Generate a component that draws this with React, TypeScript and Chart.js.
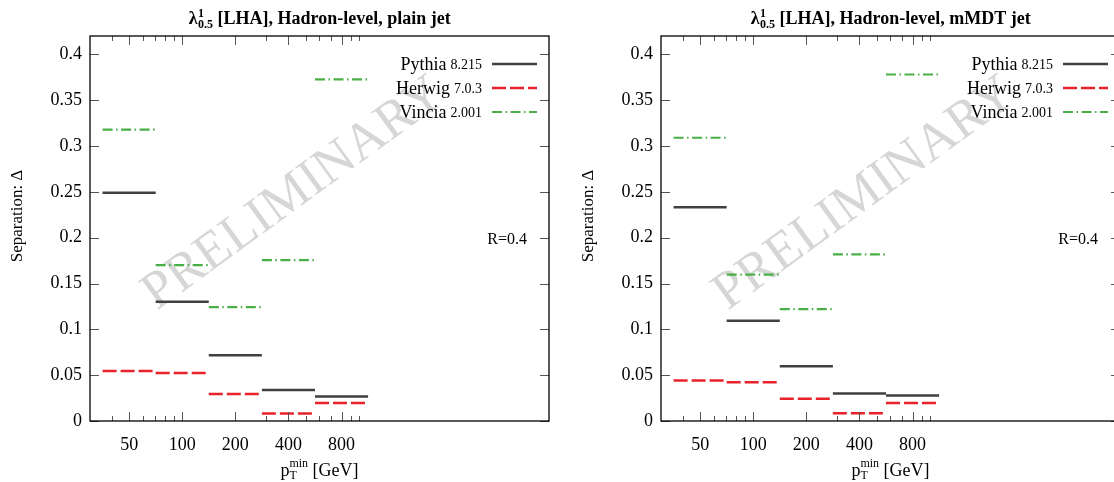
import React, { useEffect, useRef } from "react";
import { Chart, registerables } from "chart.js";
Chart.register(...registerables);

// ---------- data ----------
const ptCenters = [50, 100, 200, 400, 800];
const binEdges = [35.36, 70.71, 141.42, 282.84, 565.69, 1131.37];
const xMajorTicks = [50, 100, 200, 400, 800];
const xMinorTicks = [40, 60, 70, 80, 90, 300, 500, 600, 700, 900, 1000];
const yTicks = [0, 0.05, 0.1, 0.15, 0.2, 0.25, 0.3, 0.35, 0.4];
const yTickLabels = ["0", "0.05", "0.1", "0.15", "0.2", "0.25", "0.3", "0.35", "0.4"];

const plainPythia = [0.249, 0.130, 0.0718, 0.0339, 0.0268];
const plainHerwig = [0.0545, 0.0525, 0.0295, 0.0082, 0.0197];
const plainVincia = [0.3178, 0.1700, 0.1243, 0.1756, 0.3727];

const mmdtPythia = [0.2331, 0.1093, 0.0598, 0.0299, 0.0277];
const mmdtHerwig = [0.0441, 0.0423, 0.0244, 0.0084, 0.0197];
const mmdtVincia = [0.3090, 0.1596, 0.1221, 0.1818, 0.3780];

const generatorNames = ["Pythia", "Herwig", "Vincia"];
const generatorVersions = ["8.215", "7.0.3", "2.001"];
const seriesColors = ["#404040", "#e8222a", "#4aaf47"];
const seriesDash: number[][] = [[], [14, 4], [10, 3.5, 1.5, 3.5]];
const seriesWidths = [2.5, 2.5, 2.2];

const FONT = '"Liberation Serif", "Times New Roman", serif';

function buildSegments(vals: number[]) {
  const pts: { x: number; y: number | null }[] = [];
  vals.forEach((v, i) => {
    pts.push({ x: binEdges[i], y: v });
    pts.push({ x: binEdges[i + 1], y: v });
    if (i < vals.length - 1) pts.push({ x: binEdges[i + 1], y: null });
  });
  return pts;
}

const decorPlugin = {
  id: "decor",
  beforeDatasetsDraw(chart: any, _args: any, opts: any) {
    const ctx = chart.ctx as CanvasRenderingContext2D;
    const a = chart.chartArea;
    ctx.save();
    ctx.translate(a.left + 204, 194);
    ctx.rotate((-36 * Math.PI) / 180);
    ctx.font = `53px ${FONT}`;
    ctx.fillStyle = "rgba(0,0,0,0.16)";
    ctx.textAlign = "center";
    ctx.textBaseline = "middle";
    ctx.fillText("PRELIMINARY", 0, 0);
    ctx.restore();
  },
  afterDraw(chart: any, _args: any, opts: any) {
    const ctx = chart.ctx as CanvasRenderingContext2D;
    const a = chart.chartArea;
    const xs = chart.scales.x;
    const ys = chart.scales.y;
    ctx.save();
    // ticks
    ctx.strokeStyle = "#555";
    ctx.lineWidth = 1;
    ctx.beginPath();
    yTicks.forEach((v) => {
      const py = Math.round(ys.getPixelForValue(v)) + 0.5;
      ctx.moveTo(a.left, py);
      ctx.lineTo(a.left + 9, py);
      ctx.moveTo(a.right, py);
      ctx.lineTo(a.right - 9, py);
    });
    xMajorTicks.forEach((v) => {
      const px = Math.round(xs.getPixelForValue(v)) + 0.5;
      ctx.moveTo(px, a.bottom);
      ctx.lineTo(px, a.bottom - 9);
      ctx.moveTo(px, a.top);
      ctx.lineTo(px, a.top + 9);
    });
    xMinorTicks.forEach((v) => {
      const px = Math.round(xs.getPixelForValue(v)) + 0.5;
      ctx.moveTo(px, a.bottom);
      ctx.lineTo(px, a.bottom - 5);
      ctx.moveTo(px, a.top);
      ctx.lineTo(px, a.top + 5);
    });
    ctx.stroke();
    // frame
    ctx.strokeStyle = "#000";
    ctx.lineWidth = 1.3;
    ctx.strokeRect(a.left, a.top, a.right - a.left, a.bottom - a.top);

    ctx.fillStyle = "#000";
    ctx.textBaseline = "alphabetic";
    // title
    const big = `bold 18px ${FONT}`;
    const small = `bold 12px ${FONT}`;
    ctx.font = big;
    const wL = ctx.measureText("λ").width;
    const rest = " [LHA], Hadron-level, " + opts.title;
    const wR = ctx.measureText(rest).width;
    ctx.font = small;
    const wS = Math.max(ctx.measureText("1").width, ctx.measureText("0.5").width);
    const total = wL + wS + wR;
    let tx = (a.left + a.right) / 2 - total / 2;
    const tb = 24;
    ctx.textAlign = "left";
    ctx.font = big;
    ctx.fillText("λ", tx, tb);
    tx += wL + 0.5;
    ctx.font = small;
    ctx.fillText("1", tx, tb - 7);
    ctx.fillText("0.5", tx, tb + 4);
    tx += wS;
    ctx.font = big;
    ctx.fillText(rest, tx, tb);

    // legend
    for (let k = 0; k < 3; k++) {
      const ly = a.top + 28 + 24 * k;
      const textRight = a.right - 67;
      ctx.font = `14px ${FONT}`;
      ctx.textAlign = "right";
      const vw = ctx.measureText(generatorVersions[k]).width;
      ctx.fillText(generatorVersions[k], textRight, ly + 5);
      ctx.font = `18px ${FONT}`;
      ctx.fillText(generatorNames[k], textRight - vw - 4, ly + 6);
      ctx.save();
      ctx.strokeStyle = seriesColors[k];
      ctx.lineWidth = seriesWidths[k];
      ctx.setLineDash(seriesDash[k]);
      ctx.beginPath();
      ctx.moveTo(a.right - 57, ly);
      ctx.lineTo(a.right - 12, ly);
      ctx.stroke();
      ctx.restore();
    }

    // R label
    ctx.font = `16px ${FONT}`;
    ctx.textAlign = "right";
    ctx.fillText("R=0.4", a.right - 22, a.top + 208);

    // x axis title
    const f18 = `18px ${FONT}`;
    const f12 = `12px ${FONT}`;
    ctx.font = f18;
    const wp = ctx.measureText("p").width;
    const wg = ctx.measureText(" [GeV]").width;
    ctx.font = f12;
    const wsup = Math.max(ctx.measureText("min").width, ctx.measureText("T").width);
    let ax = (a.left + a.right) / 2 - (wp + wsup + wg) / 2;
    const ab = 476;
    ctx.textAlign = "left";
    ctx.font = f18;
    ctx.fillText("p", ax, ab);
    ax += wp;
    ctx.font = f12;
    ctx.fillText("T", ax, ab + 3);
    ctx.fillText("min", ax, ab - 9);
    ax += wsup;
    ctx.font = f18;
    ctx.fillText(" [GeV]", ax, ab);

    // y axis title
    ctx.save();
    ctx.translate(a.left - 72, 216);
    ctx.rotate(-Math.PI / 2);
    ctx.font = `17px ${FONT}`;
    ctx.textAlign = "center";
    ctx.textBaseline = "middle";
    ctx.fillText("Separation: Δ", 0, 0);
    ctx.restore();

    ctx.restore();
  },
};

function Panel({ title, pythia, herwig, vincia, left }: any) {
  const ref = useRef<HTMLCanvasElement>(null);
  useEffect(() => {
    if (!ref.current) return;
    const series = [pythia, herwig, vincia];
    const chart = new Chart(ref.current, {
      type: "line",
      data: {
        datasets: series.map((vals: number[], k: number) => ({
          label: generatorNames[k],
          data: buildSegments(vals),
          borderColor: seriesColors[k],
          borderWidth: seriesWidths[k],
          borderDash: seriesDash[k],
          borderCapStyle: "butt",
          pointRadius: 0,
          pointHoverRadius: 0,
          tension: 0,
          fill: false,
          spanGaps: false,
        })),
      },
      options: {
        animation: false,
        responsive: false,
        devicePixelRatio: 1,
        events: [],
        layout: { padding: { left: 0, top: 36, right: 22, bottom: 0 } },
        plugins: {
          legend: { display: false },
          title: { display: false },
          tooltip: { enabled: false },
          decor: { title },
        } as any,
        scales: {
          x: {
            type: "logarithmic",
            min: 30,
            max: 12000,
            grid: { display: false, drawTicks: false },
            border: { display: false },
            afterBuildTicks: (s: any) => {
              s.ticks = xMajorTicks.map((v) => ({ value: v }));
            },
            afterFit: (s: any) => {
              s.height = 61;
            },
            ticks: {
              autoSkip: false,
              maxRotation: 0,
              minRotation: 0,
              padding: 13,
              color: "#000",
              font: { family: FONT, size: 18 },
              callback: (v: any) => (xMajorTicks.includes(Number(v)) ? String(v) : ""),
            },
          },
          y: {
            type: "linear",
            min: 0,
            max: 0.42,
            grid: { display: false, drawTicks: false },
            border: { display: false },
            afterBuildTicks: (s: any) => {
              s.ticks = yTicks.map((v) => ({ value: v }));
            },
            afterFit: (s: any) => {
              s.width = 90;
            },
            ticks: {
              padding: 8,
              color: "#000",
              font: { family: FONT, size: 18 },
              callback: (_v: any, i: number) => yTickLabels[i],
            },
          },
        },
      } as any,
      plugins: [decorPlugin as any],
    });
    return () => chart.destroy();
  }, []);
  return (
    <canvas
      ref={ref}
      width={571}
      height={482}
      style={{ position: "absolute", left, top: 0, width: 571, height: 482 }}
    />
  );
}

export default function App() {
  return (
    <div
      style={{
        position: "fixed",
        left: 0,
        top: 0,
        width: 1114,
        height: 482,
        overflow: "hidden",
        background: "#fff",
      }}
    >
      <Panel title="plain jet" pythia={plainPythia} herwig={plainHerwig} vincia={plainVincia} left={0} />
      <Panel title="mMDT jet" pythia={mmdtPythia} herwig={mmdtHerwig} vincia={mmdtVincia} left={571} />
    </div>
  );
}
